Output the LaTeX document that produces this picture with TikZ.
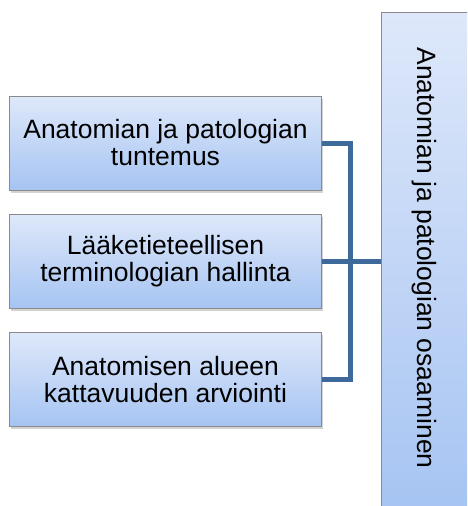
\documentclass[tikz,border=0pt]{standalone}
\usepackage{fontspec}
\setmainfont{Liberation Sans}
\usetikzlibrary{shadows}

\definecolor{boxtop}{RGB}{222,232,250}
\definecolor{boxbottom}{RGB}{166,196,242}
\definecolor{boxedge}{RGB}{138,138,138}
\definecolor{linkblue}{RGB}{62,105,155}

\tikzset{
  skill/.style={
    draw=boxedge, line width=1pt,
    top color=boxtop, bottom color=boxbottom,
    minimum width=312pt, minimum height=94pt,
    align=center, inner sep=0pt,
    font=\fontsize{26.5pt}{27pt}\selectfont,
    drop shadow={shadow xshift=1.5pt, shadow yshift=-2.5pt, opacity=0.35}
  },
  areabox/.style={
    draw=boxedge, line width=1pt,
    top color=boxtop, bottom color=boxbottom,
    minimum width=87pt, minimum height=498pt,
    inner sep=0pt
  },
  arealabel/.style={
    rotate=-90, inner sep=0pt,
    font=\fontsize{26.5pt}{27pt}\selectfont
  },
  link/.style={draw=linkblue, line width=5pt}
}

\begin{document}
\begin{tikzpicture}[x=1pt, y=-1pt]
  \useasboundingbox (0,0) rectangle (467,506);
  \clip (0,0) rectangle (467,506);

  % competence area on the right
  \node[areabox] (area) at (424.5,261) {};
  \node[arealabel] (arealabel) at (424,258) {Anatomian ja patologian osaaminen};

  % three sub-skills on the left
  \node[skill] (s1) at (165.5,143) {Anatomian ja patologian\\tuntemus};
  \node[skill] (s2) at (165.5,261) {Lääketieteellisen\\terminologian hallinta};
  \node[skill] (s3) at (165.5,379.5) {Anatomisen alueen\\kattavuuden arviointi};

  % bracket joining the sub-skills to the area
  \coordinate (joint) at (350,261);
  \draw[link] (s1.east) -| (joint) |- (s3.east);
  \draw[link] (s2.east) -- (area.west);
\end{tikzpicture}
\end{document}
